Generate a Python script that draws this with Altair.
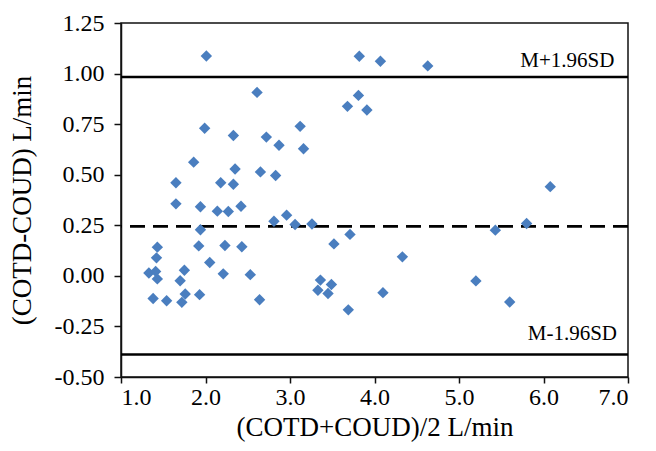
import altair as alt
import pandas as pd

mean_x = [2.01, 3.82, 4.07, 4.63, 2.61, 3.81, 3.68, 3.91, 1.99, 3.12,
          2.33, 2.72, 2.87, 3.16, 1.86, 2.35, 2.65, 2.83, 1.65, 2.18,
          2.33, 6.08, 1.65, 1.94, 2.42, 2.14, 2.27, 2.96, 2.81, 5.80,
          3.06, 3.26, 1.94, 5.43, 3.71, 3.52, 1.43, 1.92, 2.23, 2.43,
          4.33, 1.42, 2.05, 1.33, 1.41, 1.43, 1.75, 1.70, 2.21, 2.53,
          3.36, 3.49, 5.20, 3.33, 3.45, 4.10, 1.38, 1.54, 1.72, 1.76,
          1.93, 2.64, 3.69, 5.60]
diff_y = [1.087, 1.086, 1.061, 1.038, 0.907, 0.892, 0.838, 0.820, 0.730, 0.739,
          0.694, 0.686, 0.646, 0.628, 0.562, 0.528, 0.514, 0.496, 0.460, 0.460,
          0.453, 0.441, 0.356, 0.342, 0.344, 0.320, 0.318, 0.300, 0.270, 0.259,
          0.254, 0.256, 0.228, 0.226, 0.205, 0.158, 0.142, 0.148, 0.150, 0.144,
          0.094, 0.089, 0.066, 0.014, 0.022, -0.015, 0.028, -0.024, 0.010, 0.006,
          -0.021, -0.043, -0.025, -0.071, -0.087, -0.083, -0.112, -0.123, -0.131, -0.090,
          -0.093, -0.118, -0.168, -0.129]

limit_names = ["upper", "mean", "lower"]
limit_values = [0.983, 0.245, -0.389]

label_texts = ["M+1.96SD", "M-1.96SD"]
label_x = [6.84, 6.87]
label_y = [1.061, -0.288]

x_ticks = [1, 2, 3, 4, 5, 6, 7]
y_ticks = [-0.5, -0.25, 0, 0.25, 0.5, 0.75, 1.0, 1.25]

pts = pd.DataFrame({"m": mean_x, "d": diff_y})
solid = pd.DataFrame({"name": [limit_names[0], limit_names[2]],
                      "v": [limit_values[0], limit_values[2]]})
dashed = pd.DataFrame({"name": [limit_names[1]], "v": [limit_values[1]]})
labels = pd.DataFrame({"t": label_texts, "x": label_x, "y": label_y})

FONT = "Liberation Serif"

xscale = alt.Scale(domain=[1, 7], nice=False, zero=False)
yscale = alt.Scale(domain=[-0.5, 1.25], nice=False, zero=False)

xaxis = alt.Axis(values=x_ticks, title="(COTD+COUD)/2 L/min",
                 labelExpr="format(datum.value, '.1f')",
                 grid=False, tickSize=6, labelPadding=2, titlePadding=5)
yaxis = alt.Axis(values=y_ticks, title="(COTD-COUD) L/min",
                 labelExpr="replace(format(datum.value, '.2f'), '\u2212', '-')",
                 grid=False, tickSize=7, labelPadding=10, titlePadding=18)

points = alt.Chart(pts).mark_point(
    shape="diamond", filled=True, size=130, color="#4A7EBF", opacity=1
).encode(
    x=alt.X("m:Q", scale=xscale, axis=xaxis),
    y=alt.Y("d:Q", scale=yscale, axis=yaxis),
)

solid_lines = alt.Chart(solid).mark_rule(color="black", strokeWidth=2.6).encode(
    y=alt.Y("v:Q", scale=yscale)
)
dashed_line = alt.Chart(dashed).mark_rule(
    color="black", strokeWidth=2.8, strokeDash=[15, 8]
).encode(y=alt.Y("v:Q", scale=yscale))

text = alt.Chart(labels).mark_text(
    align="right", baseline="middle", font=FONT, fontSize=21, color="black"
).encode(
    x=alt.X("x:Q", scale=xscale),
    y=alt.Y("y:Q", scale=yscale),
    text="t:N",
)

chart = alt.layer(solid_lines, dashed_line, points, text).properties(
    width=507,
    height=354,
    autosize=alt.AutoSizeParams(type="none"),
    padding={"left": 113, "top": 15, "right": 18, "bottom": 66},
    background="white",
).configure_view(
    stroke="#111", strokeWidth=1.5
).configure_axis(
    domainColor="#111", domainWidth=1.5, tickColor="#111", tickWidth=1.5,
    labelFont=FONT, labelFontSize=24, labelColor="black",
    titleFont=FONT, titleFontSize=27, titleColor="black", titleFontWeight="normal",
)

chart.save("out.html", embed_options={"renderer": "svg", "actions": False})
